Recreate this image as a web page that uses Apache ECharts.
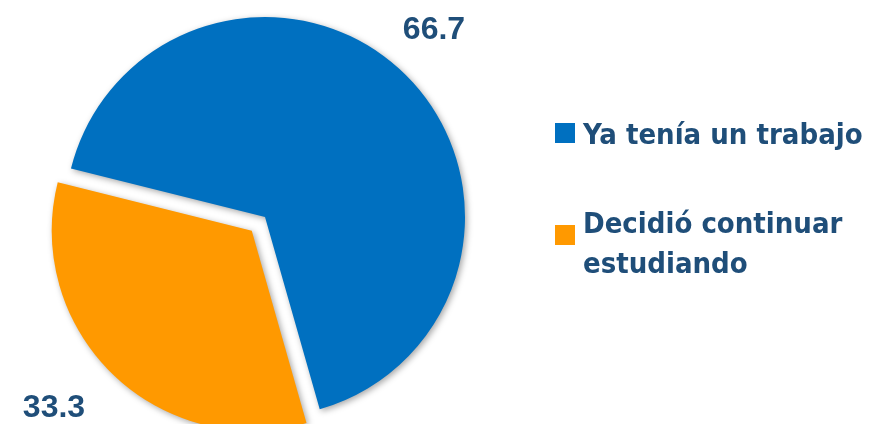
<!DOCTYPE html>
<html>
<head>
<meta charset="utf-8">
<script src="https://cdn.jsdelivr.net/npm/echarts@6/dist/echarts.min.js"></script>
<style>
html,body{margin:0;padding:0;background:#fff;}
#c{width:874px;height:424px;}
</style>
</head>
<body>
<div id="c"></div>
<script>
const categories = ['Ya tenía un trabajo', 'Decidió continuar\nestudiando'];
const values = [66.7, 33.3];
const colors = ['#0070C0', '#FF9900'];
const labelPos = [[434, 30], [54, 408]];
// legend layout: [icon top, text block middle]
const legendPos = [[123, 136], [225, 245]];

const chart = echarts.init(document.getElementById('c'));
const textColor = '#1F4E79';

const legendGraphics = [];
categories.forEach((c, i) => {
  legendGraphics.push({
    type: 'rect',
    shape: { x: 555, y: legendPos[i][0], width: 20, height: 20 },
    style: { fill: colors[i] }
  });
  legendGraphics.push({
    type: 'text',
    x: 583,
    y: legendPos[i][1],
    style: {
      text: c,
      fill: textColor,
      font: 'bold 29px "DejaVu Sans Condensed", "Liberation Sans", sans-serif',
      lineHeight: 40,
      align: 'left',
      verticalAlign: 'middle'
    }
  });
});

chart.setOption({
  animation: false,
  graphic: values.map((v, i) => ({
    type: 'text',
    x: labelPos[i][0],
    y: labelPos[i][1],
    style: {
      text: v.toFixed(1),
      fill: textColor,
      font: 'bold 32px "Liberation Sans", Arial, sans-serif',
      align: 'center',
      verticalAlign: 'middle'
    }
  })).concat(legendGraphics),
  series: [{
    type: 'pie',
    name: 'Motivo',
    center: [265, 217],
    radius: 200,
    startAngle: 166,
    selectedMode: 'single',
    selectedOffset: 19,
    silent: true,
    data: categories.map((c, i) => ({
      name: c,
      value: values[i],
      selected: i === 1,
      itemStyle: { color: colors[i] }
    })),
    itemStyle: {
      shadowBlur: 6,
      shadowColor: 'rgba(0,0,0,0.35)',
      shadowOffsetX: 2,
      shadowOffsetY: 2
    },
    label: { show: false },
    labelLine: { show: false }
  }]
});
</script>
</body>
</html>
